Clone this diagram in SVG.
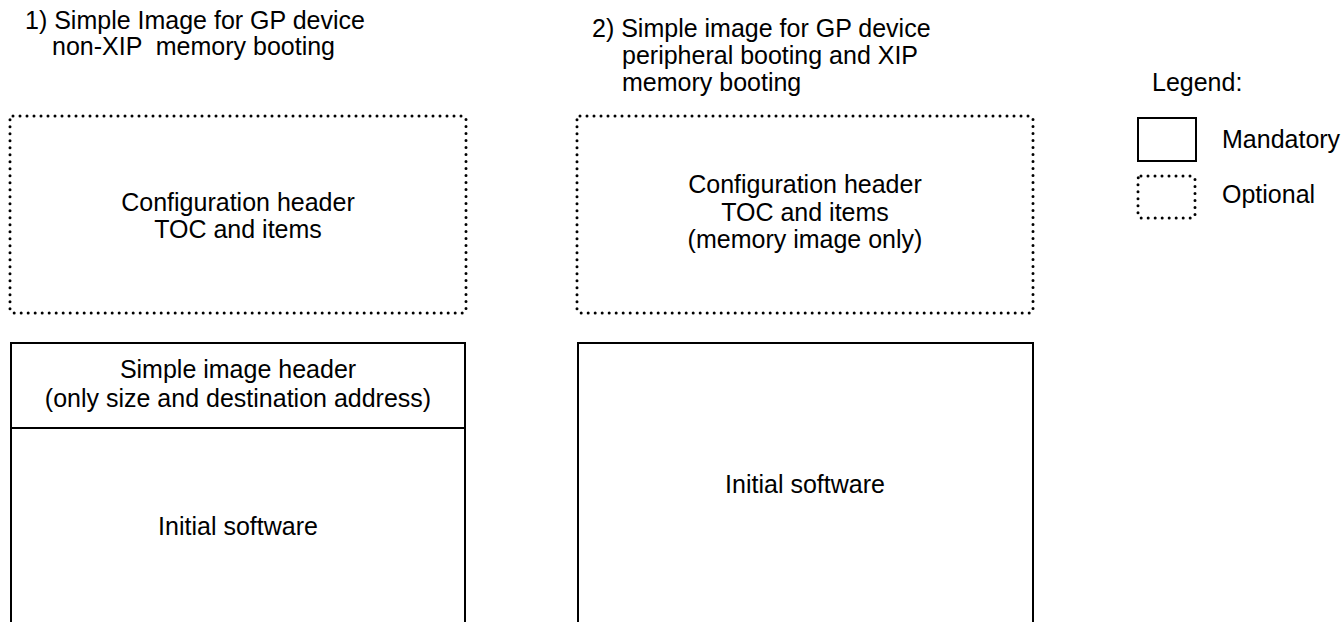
<svg xmlns="http://www.w3.org/2000/svg" width="1343" height="622" viewBox="0 0 1343 622">
<style>
text{font-family:"Liberation Sans",Arial,sans-serif;font-size:25px;fill:#000;white-space:pre}
.c{text-anchor:middle}
.solid{fill:none;stroke:#000;stroke-width:2}
.dot{fill:none;stroke:#000;stroke-width:3;stroke-dasharray:0 7;stroke-linecap:round}
</style>
<rect width="1343" height="622" fill="#fff"/>
<g id="title1">
<text x="25" y="29">1) Simple Image for GP device</text>
<text x="52" y="55" xml:space="preserve">non-XIP  memory booting</text>
</g>
<g id="title2">
<text x="592" y="37">2) Simple image for GP device</text>
<text x="622" y="64">peripheral booting and XIP</text>
<text x="622" y="91">memory booting</text>
</g>
<g id="config1">
<rect class="dot" x="10" y="116" width="456" height="197" rx="3"/>
<text class="c" x="238" y="211">Configuration header</text>
<text class="c" x="238" y="238">TOC and items</text>
</g>
<g id="config2">
<rect class="dot" x="577" y="116" width="456" height="197" rx="3"/>
<text class="c" x="805" y="193">Configuration header</text>
<text class="c" x="805" y="221">TOC and items</text>
<text class="c" x="805" y="248">(memory image only)</text>
</g>
<g id="image1">
<rect class="solid" x="11" y="343" width="454" height="300"/>
<line class="solid" x1="11" y1="428" x2="465" y2="428"/>
<text class="c" x="238" y="378">Simple image header</text>
<text class="c" x="238" y="407">(only size and destination address)</text>
<text class="c" x="238" y="535">Initial software</text>
</g>
<g id="image2">
<rect class="solid" x="578" y="343" width="455" height="300"/>
<text class="c" x="805" y="493">Initial software</text>
</g>
<g id="legend">
<text x="1152" y="91">Legend:</text>
<rect class="solid" x="1138" y="118" width="58" height="43"/>
<text x="1222" y="148">Mandatory</text>
<rect class="dot" x="1138" y="176" width="57" height="42" rx="3"/>
<text x="1222" y="203">Optional</text>
</g>
<g id="connectors"></g>
</svg>
